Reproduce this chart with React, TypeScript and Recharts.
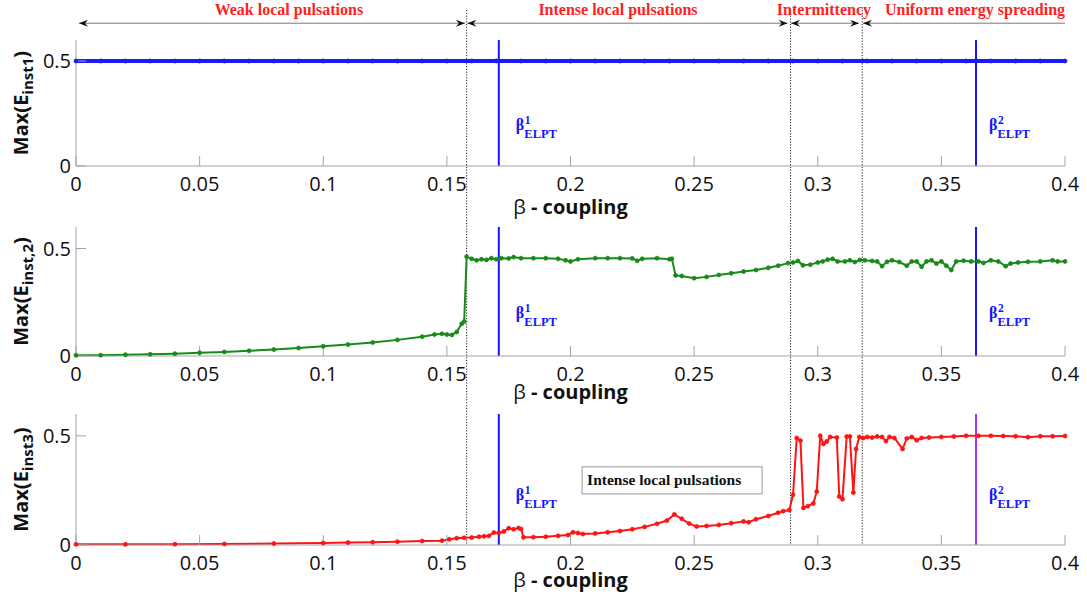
import React from 'react';
import { LineChart, Line, XAxis, YAxis, ReferenceLine, ReferenceDot, ReferenceArea } from 'recharts';

const xTicks = [0, 0.05, 0.1, 0.15, 0.2, 0.25, 0.3, 0.35, 0.4];
const yTicks = [0, 0.5];

// regime boundaries (dotted) and the two ELPT thresholds (solid)
const phaseBounds = [0.158, 0.289, 0.318];
const betaElpt1 = 0.171;
const betaElpt2 = 0.364;

// regime captions + arrows across the top
const regionNames = ['Weak local pulsations', 'Intense local pulsations', 'Intermittency', 'Uniform energy spreading'];
const regionFrom = [0.0012, 0.1583, 0.2892, 0.3183];
const regionTo = [0.1573, 0.2878, 0.3167, 0.4];
const regionTextAt = [0.0861, 0.2192, 0.3025, 0.3636];

// site 1
const e1Beta = [
  0, 0.01, 0.02, 0.03, 0.04, 0.05, 0.06, 0.07, 0.08, 0.09, 0.1, 0.11, 0.12, 0.13, 0.14, 0.15, 0.16, 0.17, 0.18, 0.19, 0.2,
  0.21, 0.22, 0.23, 0.24, 0.25, 0.26, 0.27, 0.28, 0.29, 0.3, 0.31, 0.32, 0.33, 0.34, 0.35, 0.36, 0.37, 0.38, 0.39, 0.4,
];
const e1Max = [
  0.5, 0.5, 0.5, 0.5, 0.5, 0.5, 0.5, 0.5, 0.5, 0.5, 0.5, 0.5, 0.5, 0.5, 0.5, 0.5, 0.5, 0.5, 0.5, 0.5, 0.5,
  0.5, 0.5, 0.5, 0.5, 0.5, 0.5, 0.5, 0.5, 0.5, 0.5, 0.5, 0.5, 0.5, 0.5, 0.5, 0.5, 0.5, 0.5, 0.5, 0.5,
];

// site 2
const e2Beta = [
  0, 0.01, 0.02, 0.03, 0.04, 0.05, 0.06, 0.07, 0.08, 0.09, 0.1, 0.11, 0.12, 0.13, 0.14, 0.145, 0.148, 0.15, 0.152, 0.154,
  0.156, 0.157, 0.158, 0.16, 0.162, 0.164, 0.166, 0.168, 0.17, 0.172, 0.175, 0.177, 0.18, 0.185, 0.19, 0.195, 0.198, 0.2,
  0.203, 0.21, 0.215, 0.22, 0.225, 0.227, 0.229, 0.235, 0.24, 0.241, 0.2425, 0.245, 0.25, 0.255, 0.26, 0.265, 0.27, 0.275,
  0.28, 0.284, 0.288, 0.29, 0.292, 0.294, 0.297, 0.3, 0.302, 0.304, 0.306, 0.308, 0.311, 0.313, 0.315, 0.317, 0.319, 0.322,
  0.324, 0.326, 0.328, 0.33, 0.333, 0.336, 0.338, 0.34, 0.342, 0.344, 0.346, 0.348, 0.35, 0.352, 0.354, 0.356, 0.359, 0.362,
  0.365, 0.367, 0.37, 0.373, 0.376, 0.378, 0.381, 0.385, 0.39, 0.395, 0.397, 0.4,
];
const e2Max = [
  0.003, 0.004, 0.006, 0.008, 0.011, 0.015, 0.019, 0.024, 0.03, 0.037, 0.045, 0.053, 0.063, 0.075, 0.09, 0.1, 0.103, 0.1, 0.098, 0.112,
  0.15, 0.16, 0.462, 0.452, 0.445, 0.45, 0.447, 0.455, 0.45, 0.455, 0.454, 0.46, 0.455, 0.455, 0.455, 0.452, 0.445, 0.44,
  0.45, 0.455, 0.455, 0.455, 0.454, 0.443, 0.452, 0.455, 0.45, 0.452, 0.375, 0.372, 0.362, 0.368, 0.377, 0.385, 0.393, 0.4,
  0.41, 0.42, 0.432, 0.435, 0.442, 0.422, 0.425, 0.435, 0.44, 0.448, 0.452, 0.44, 0.44, 0.445, 0.437, 0.447, 0.445, 0.442,
  0.44, 0.418, 0.438, 0.445, 0.437, 0.42, 0.44, 0.44, 0.415, 0.44, 0.445, 0.43, 0.44, 0.42, 0.4, 0.44, 0.443, 0.44,
  0.44, 0.433, 0.445, 0.44, 0.418, 0.43, 0.435, 0.438, 0.44, 0.445, 0.44, 0.44,
];

// site 3
const e3Beta = [
  0, 0.02, 0.04, 0.06, 0.08, 0.1, 0.11, 0.12, 0.13, 0.14, 0.148, 0.151, 0.154, 0.157, 0.16, 0.163, 0.165, 0.167, 0.169, 0.171,
  0.173, 0.175, 0.177, 0.179, 0.18, 0.181, 0.185, 0.19, 0.195, 0.199, 0.201, 0.203, 0.205, 0.21, 0.215, 0.22, 0.225, 0.23,
  0.235, 0.239, 0.242, 0.245, 0.248, 0.251, 0.255, 0.26, 0.265, 0.27, 0.272, 0.275, 0.28, 0.284, 0.286, 0.2885, 0.29, 0.2915,
  0.293, 0.2942, 0.296, 0.2982, 0.2996, 0.301, 0.3023, 0.3036, 0.305, 0.3077, 0.3087, 0.31, 0.3117, 0.313, 0.3144, 0.3155,
  0.3168, 0.3184, 0.32, 0.322, 0.324, 0.326, 0.3276, 0.329, 0.331, 0.3343, 0.336, 0.338, 0.34, 0.342, 0.345, 0.35, 0.355,
  0.36, 0.365, 0.37, 0.375, 0.38, 0.385, 0.39, 0.395, 0.4,
];
const e3Max = [
  0.003, 0.003, 0.004, 0.005, 0.007, 0.009, 0.011, 0.013, 0.015, 0.018, 0.02, 0.026, 0.031, 0.033, 0.034, 0.038, 0.04, 0.042, 0.057, 0.055,
  0.062, 0.077, 0.072, 0.078, 0.073, 0.035, 0.036, 0.038, 0.042, 0.046, 0.058, 0.055, 0.05, 0.053, 0.058, 0.064, 0.072, 0.083,
  0.097, 0.112, 0.14, 0.12, 0.098, 0.085, 0.087, 0.092, 0.1, 0.108, 0.104, 0.118, 0.133, 0.148, 0.155, 0.16, 0.23, 0.49,
  0.478, 0.17, 0.178, 0.19, 0.245, 0.5, 0.463, 0.474, 0.495, 0.492, 0.222, 0.21, 0.497, 0.497, 0.24, 0.44,
  0.495, 0.49, 0.495, 0.492, 0.497, 0.495, 0.476, 0.495, 0.49, 0.44, 0.488, 0.495, 0.48, 0.49, 0.492, 0.495, 0.497,
  0.5, 0.5, 0.5, 0.499, 0.498, 0.494, 0.498, 0.498, 0.499,
];

const toRows = (beta: number[], vals: number[]) => beta.map((b, i) => ({ beta: b, v: vals[i] }));
const e1Data = toRows(e1Beta, e1Max);
const e2Data = toRows(e2Beta, e2Max);
const e3Data = toRows(e3Beta, e3Max);

const W = 1087;
const PLOT_LEFT = 76;
const PLOT_RIGHT_GAP = 22;
const FRAME = '#a3a3a3';
const SANS = "'Open Sans', 'Noto Sans', sans-serif";
const SERIF = "'Liberation Serif', 'Times New Roman', serif";
const ELPT_BLUE = '#1515ff';

function RegionArrow(p: any) {
  const { x1, x2, y1, right } = p;
  const y = y1;
  return (
    <g>
      <line x1={x1} y1={y} x2={x2} y2={y} stroke="#777" strokeWidth={1} />
      <path d={`M${x1},${y} L${x1 + 9},${y - 3.5} L${x1 + 6},${y} L${x1 + 9},${y + 3.5} Z`} fill="#111" />
      {right && <path d={`M${x2},${y} L${x2 - 9},${y - 3.5} L${x2 - 6},${y} L${x2 - 9},${y + 3.5} Z`} fill="#111" />}
    </g>
  );
}

function ElptLabel({ cx, cy, n, color, dx }: { cx: number; cy: number; n: number; color: string; dx: number }) {
  const x = cx + dx;
  return (
    <g fill={color} fontFamily={SERIF} fontWeight="bold">
      <text x={x} y={cy} fontSize={16}>β</text>
      <text x={x + 9} y={cy - 6} fontSize={11.5}>{n}</text>
      <text x={x + 8.5} y={cy + 8} fontSize={12.5}>ELPT</text>
    </g>
  );
}

function XTitle({ viewBox, dy }: any) {
  const { x, y, width } = viewBox;
  return (
    <text x={x + width / 2} y={y + dy} textAnchor="middle" fontFamily={SANS} fontSize={20} fill="#111">
      <tspan>β</tspan>
      <tspan fontWeight="bold"> - coupling</tspan>
    </text>
  );
}

function YTitle({ viewBox, sub }: any) {
  const { y, height } = viewBox;
  return (
    <text
      transform={`translate(28, ${y + height / 2}) rotate(-90)`}
      textAnchor="middle"
      fontFamily={SANS}
      fontWeight="bold"
      fontSize={20}
      fill="#111"
    >
      Max(E
      <tspan fontSize={15} dy={5}>{sub}</tspan>
      <tspan dy={-5}>)</tspan>
    </text>
  );
}

type PanelProps = {
  top: number;
  height: number;
  marginTop: number;
  axisHeight: number;
  titleDy: number;
  data: { beta: number; v: number }[];
  color: string;
  lineWidth: number;
  sub: string;
  elptY: number;
  elpt2Color: string;
  dotFrom: number;
  dotTo: number;
  children?: React.ReactNode;
};

function Panel(props: PanelProps) {
  const { top, height, marginTop, axisHeight, titleDy, data, color, lineWidth, sub, elptY, elpt2Color, dotFrom, dotTo } = props;
  return (
    <div style={{ position: 'absolute', left: 0, top }}>
      <LineChart width={W} height={height} margin={{ top: marginTop, right: PLOT_RIGHT_GAP, bottom: 0, left: 0 }}>
        <XAxis
          xAxisId="b"
          type="number"
          dataKey="beta"
          domain={[0, 0.4]}
          ticks={xTicks}
          interval={0}
          height={axisHeight}
          tickSize={-10}
          tickMargin={21}
          axisLine={{ stroke: FRAME }}
          tickLine={{ stroke: FRAME }}
          tick={{ fill: '#111', fontSize: 20, fontFamily: SANS }}
          label={{ content: (p: any) => <XTitle viewBox={p.viewBox} dy={titleDy} /> }}
        />
        <XAxis
          xAxisId="t"
          orientation="top"
          type="number"
          dataKey="beta"
          domain={[0, 0.4]}
          ticks={xTicks}
          interval={0}
          height={0}
          tickSize={-10}
          axisLine={{ stroke: FRAME }}
          tickLine={{ stroke: FRAME }}
          tick={false}
        />
        <YAxis
          yAxisId="l"
          type="number"
          domain={[0, 0.6]}
          ticks={yTicks}
          interval={0}
          width={PLOT_LEFT}
          tickSize={-10}
          tickMargin={15}
          axisLine={{ stroke: FRAME }}
          tickLine={{ stroke: FRAME }}
          tick={{ fill: '#111', fontSize: 20, fontFamily: SANS }}
          label={{ content: (p: any) => <YTitle viewBox={p.viewBox} sub={sub} /> }}
        />
        <YAxis
          yAxisId="r"
          orientation="right"
          type="number"
          domain={[0, 0.6]}
          ticks={yTicks}
          interval={0}
          width={0}
          tickSize={-10}
          axisLine={{ stroke: FRAME }}
          tickLine={{ stroke: FRAME }}
          tick={false}
        />

        {phaseBounds.map((b) => (
          <ReferenceLine
            key={`ph${b}`}
            xAxisId="b"
            yAxisId="l"
            ifOverflow="visible"
            segment={[{ x: b, y: dotFrom }, { x: b, y: dotTo }]}
            stroke="#222"
            strokeWidth={1}
            strokeDasharray="1.2 1.6"
          />
        ))}
        <ReferenceLine xAxisId="b" yAxisId="l" x={betaElpt1} stroke={ELPT_BLUE} strokeWidth={2} />
        <ReferenceLine xAxisId="b" yAxisId="l" x={betaElpt2} stroke={elpt2Color} strokeWidth={2} />
        <ReferenceDot
          xAxisId="b"
          yAxisId="l"
          x={betaElpt1}
          y={elptY}
          ifOverflow="visible"
          shape={(p: any) => <ElptLabel cx={p.cx} cy={p.cy} n={1} color={ELPT_BLUE} dx={17} />}
        />
        <ReferenceDot
          xAxisId="b"
          yAxisId="l"
          x={betaElpt2}
          y={elptY}
          ifOverflow="visible"
          shape={(p: any) => <ElptLabel cx={p.cx} cy={p.cy} n={2} color={ELPT_BLUE} dx={13} />}
        />
        {props.children}

        <Line
          xAxisId="b"
          yAxisId="l"
          data={data}
          dataKey="v"
          type="linear"
          stroke={color}
          strokeWidth={lineWidth}
          dot={{ r: 2, fill: color, stroke: color, strokeWidth: 0.8 }}
          activeDot={false}
          isAnimationActive={false}
        />
      </LineChart>
    </div>
  );
}

export default function App() {
  return (
    <div style={{ position: 'absolute', left: 0, top: 0, width: W, height: 601, background: '#fff', overflow: 'hidden' }}>
      <Panel
        top={0}
        height={220}
        marginTop={40}
        axisHeight={54}
        titleDy={48}
        data={e1Data}
        color="#1a1aff"
        lineWidth={4}
        sub="inst1"
        elptY={0.171}
        elpt2Color={ELPT_BLUE}
        dotFrom={0.743}
        dotTo={-1}
      >
        {regionNames.map((name, i) => (
          <ReferenceLine
            key={`ar${i}`}
            xAxisId="b"
            yAxisId="l"
            ifOverflow="visible"
            segment={[{ x: regionFrom[i], y: 0.68 }, { x: regionTo[i], y: 0.68 }]}
            shape={(p: any) => <RegionArrow {...p} right={i < 3} />}
          />
        ))}
        {regionNames.map((name, i) => (
          <ReferenceDot
            key={`rt${i}`}
            xAxisId="b"
            yAxisId="l"
            x={regionTextAt[i]}
            y={0.718}
            ifOverflow="visible"
            shape={(p: any) => (
              <text x={p.cx} y={p.cy} textAnchor="middle" fontFamily={SERIF} fontWeight="bold" fontSize={16} fill="#ff1f1f">
                {name}
              </text>
            )}
          />
        ))}
      </Panel>
      <Panel
        top={220}
        height={184}
        marginTop={7}
        axisHeight={48}
        titleDy={43}
        data={e2Data}
        color="#198a19"
        lineWidth={2}
        sub="inst,2"
        elptY={0.177}
        elpt2Color={ELPT_BLUE}
        dotFrom={2}
        dotTo={-1}
      />
      <Panel
        top={404}
        height={197}
        marginTop={10}
        axisHeight={56}
        titleDy={42}
        data={e3Data}
        color="#ff1414"
        lineWidth={2}
        sub="inst3"
        elptY={0.206}
        elpt2Color="#9b3cf2"
        dotFrom={2}
        dotTo={0}
      >
        <ReferenceArea
          xAxisId="b"
          yAxisId="l"
          x1={0.2047}
          x2={0.2775}
          y1={0.234}
          y2={0.358}
          ifOverflow="visible"
          shape={(p: any) => (
            <g>
              <rect x={p.x} y={p.y} width={p.width} height={p.height} fill="#fff" stroke="#9a9a9a" strokeWidth={1} />
              <text x={p.x + 5} y={p.y + p.height / 2 + 5} fontFamily={SERIF} fontWeight="bold" fontSize={15.5} fill="#111">
                Intense local pulsations
              </text>
            </g>
          )}
        />
      </Panel>
    </div>
  );
}
